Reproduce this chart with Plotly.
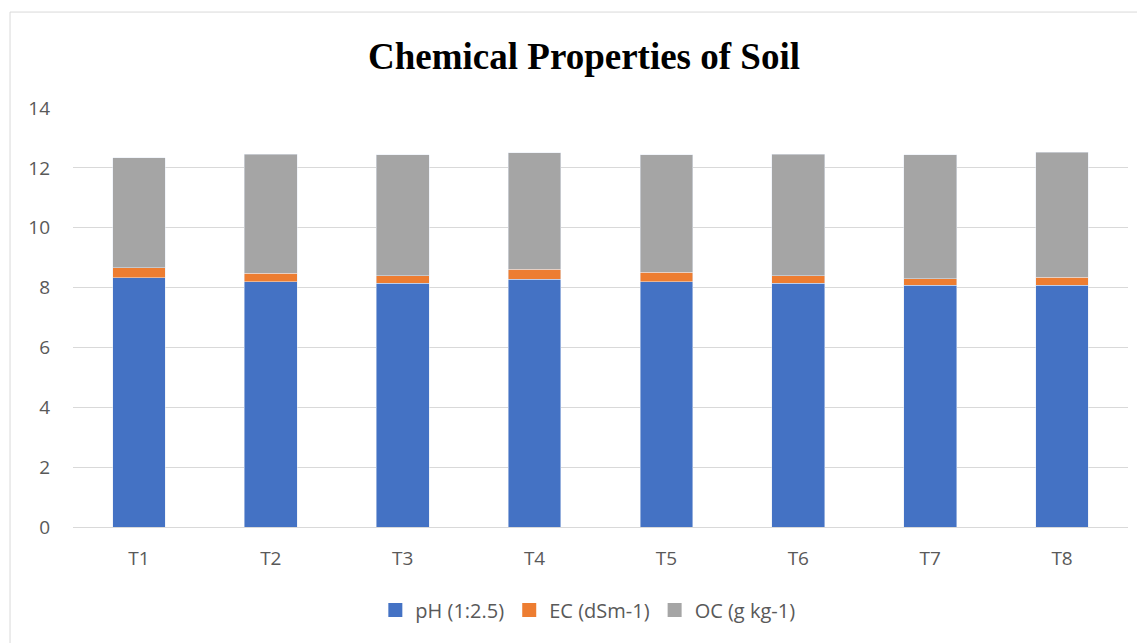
import plotly.graph_objects as go

categories = ["T1", "T2", "T3", "T4", "T5", "T6", "T7", "T8"]
ph = [8.33, 8.19, 8.14, 8.27, 8.20, 8.14, 8.07, 8.07]
ec = [0.34, 0.29, 0.26, 0.34, 0.31, 0.26, 0.23, 0.28]
oc = [3.66, 3.98, 4.04, 3.89, 3.92, 4.06, 4.14, 4.18]
y_ticks = [0, 2, 4, 6, 8, 10, 12, 14]

series = [("pH (1:2.5)", ph, "#4472C4"), ("EC (dSm-1)", ec, "#ED7D31"), ("OC (g kg-1)", oc, "#A5A5A5")]

fig = go.Figure()
for name, vals, col in series:
    fig.add_trace(go.Bar(x=categories, y=vals, name=name, marker_color=col, width=0.4,
                         showlegend=False, legendgroup=name))
for name, vals, col in series:
    fig.add_trace(go.Scatter(x=[None], y=[None], mode="markers", name=name, legendgroup=name,
                             marker=dict(symbol="square", size=14, color=col)))

fig.update_layout(
    barmode="stack",
    width=1137, height=635,
    margin=dict(l=65, r=17, t=100, b=116),
    paper_bgcolor="white", plot_bgcolor="white",
    title=dict(text="<b>Chemical Properties of Soil</b>", x=0.5066, xanchor="center",
               y=0.924, yanchor="middle",
               font=dict(family="Liberation Serif", size=37, color="black")),
    font=dict(family="Open Sans", size=19, color="#595959"),
    legend=dict(orientation="h", x=0.488, xanchor="center", y=-0.198, yanchor="middle",
                font=dict(family="Open Sans", size=20, color="#595959"), traceorder="normal",
                itemwidth=30),
    xaxis=dict(showgrid=False, ticks="", tickfont=dict(size=19, color="#595959"), showline=False,
               ticklabelstandoff=18),
    yaxis=dict(range=[0, 14], tickvals=y_ticks, showgrid=True, gridcolor="#D9D9D9", gridwidth=1,
               zeroline=True, zerolinecolor="#D9D9D9", zerolinewidth=1, ticks="",
               tickfont=dict(size=19, color="#595959"), ticklabelstandoff=22),
    shapes=[
        dict(type="line", xref="paper", yref="paper", x0=-0.0597, x1=-0.0597, y0=-0.3, y1=1.229,
             line=dict(color="#D9D9D9", width=1)),
        dict(type="line", xref="paper", yref="paper", x0=-0.0597, x1=1.1, y0=1.229, y1=1.229,
             line=dict(color="#D9D9D9", width=1)),
    ],
)

fig.write_html("out.html")
